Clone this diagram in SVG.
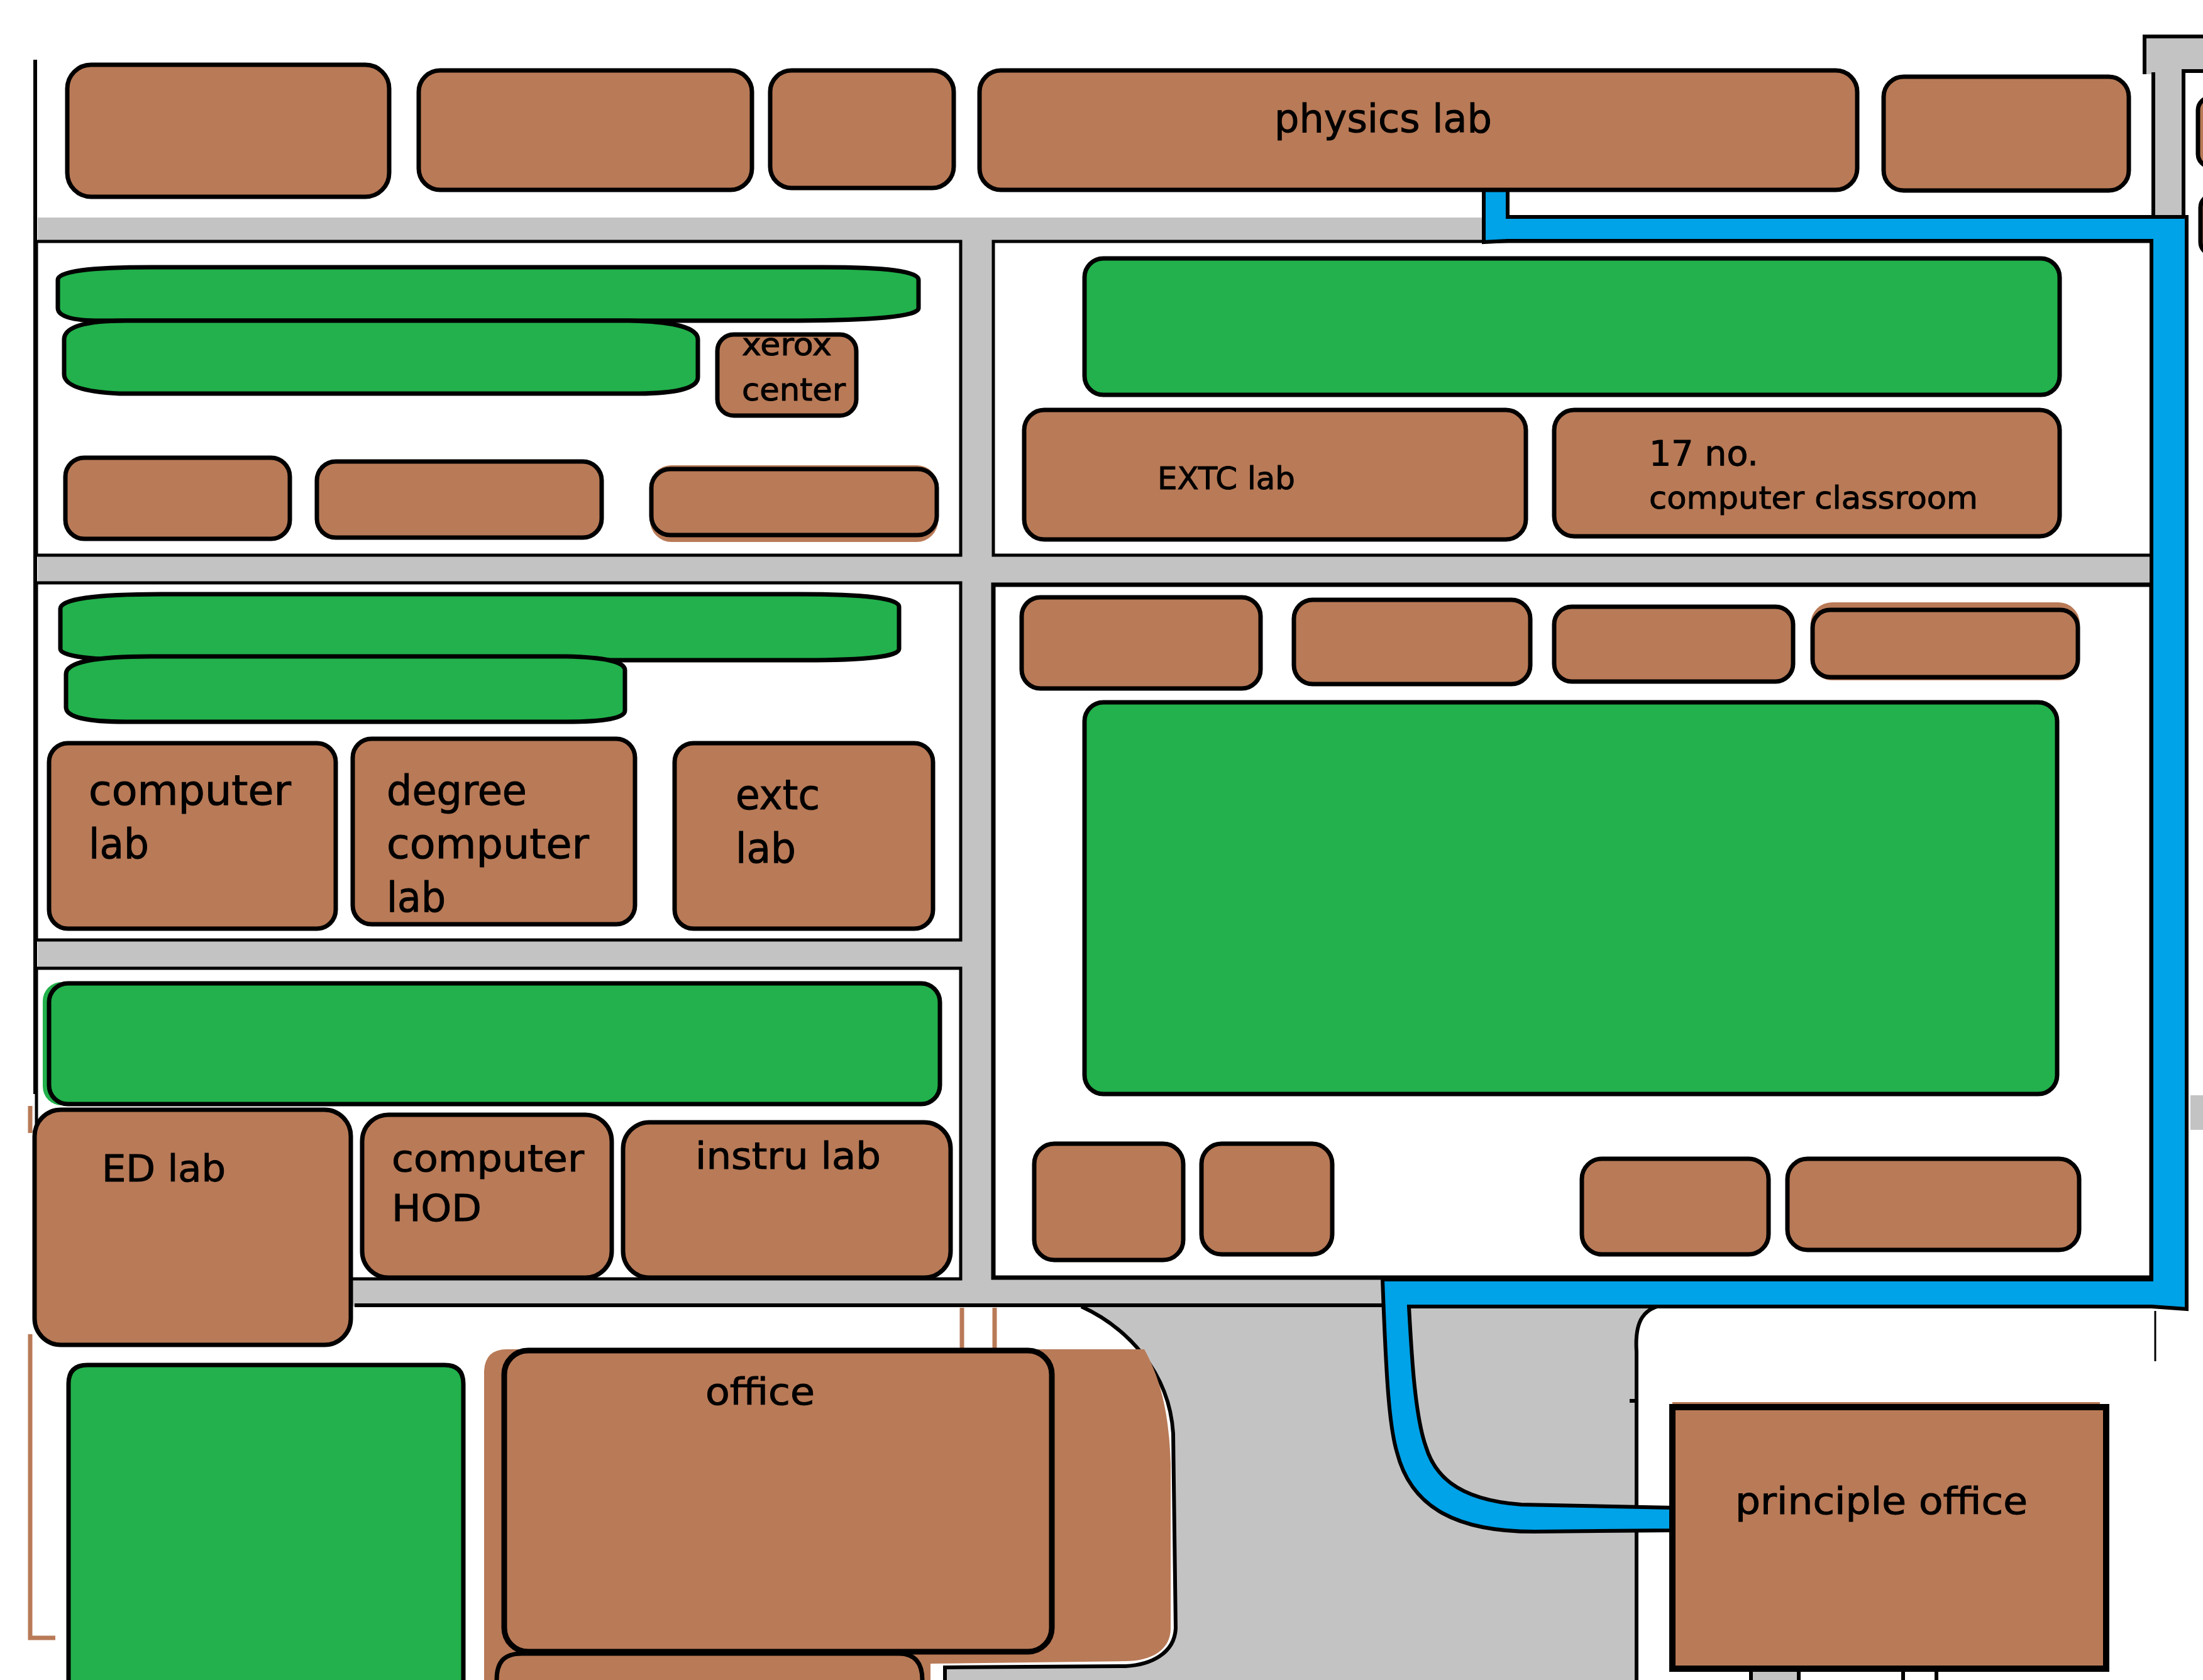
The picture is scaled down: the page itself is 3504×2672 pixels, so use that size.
<svg xmlns="http://www.w3.org/2000/svg" width="3504" height="2672" viewBox="0 0 3504 2672">
<style>
.b{fill:#b97a57;stroke:#000;stroke-width:7}
.g{fill:#22b14c;stroke:#000;stroke-width:7}
.h{fill:#b97a57}
.r{fill:#c3c3c3}
.s{fill:#fff;stroke:#000;stroke-width:5}
.l{fill:none;stroke:#000;stroke-width:6}
.m{fill:none;stroke:#b97a57;stroke-width:7}
text{font-family:"DejaVu Sans",Verdana,sans-serif;fill:#000;stroke:#000;stroke-width:1;font-size:56px}
</style>
<rect width="3504" height="2672" fill="#fff"/>
<g id="roads">
<rect class="r" x="60" y="346" width="3370" height="1732"/>
<path class="r" d="M3411 58H3504V113H3473V346H3422V118H3411Z"/>
<path class="l" d="M3504 58H3411V118M3504 113H3473V346M3425 115V346"/>
<path class="r" d="M1720 2078C1790 2110 1860 2180 1866 2280L1870 2590C1868 2630 1830 2648 1790 2650L1503 2652V2672H2600V2150C2600 2105 2610 2074 2664 2074Z"/>
<path class="l" d="M564 2076H2664M1720 2078C1790 2110 1860 2180 1866 2280L1870 2590C1868 2630 1830 2648 1790 2650L1503 2652V2672M2603 2672V2150C2600 2105 2610 2074 2664 2074M56 95V1740M2592 2228H2606"/>
<rect class="r" x="2785" y="2658" width="76" height="14"/>
<rect class="r" x="3484" y="1742" width="20" height="55"/>
</g>
<g id="sections">
<rect class="s" x="58" y="384" width="1470" height="499"/>
<rect class="s" x="58" y="927" width="1470" height="568"/>
<rect class="s" x="58" y="1540" width="1470" height="494"/>
<rect class="s" x="1580" y="384" width="1842" height="499"/>
<rect class="s" x="1580" y="930" width="1842" height="1102" style="stroke-width:7"/>
</g>
<g id="marks">
<path class="m" d="M48 1759V1802M48 2122V2605H88M1530 2080V2145M1582 2080V2145"/>
<path class="l" d="M3428 2085V2165" style="stroke-width:3"/>
<path class="l" d="M2785 2672V2656M2861 2672V2656M3027 2672V2650M3080 2672V2654"/>
</g>
<g id="connectors">
<path fill="#00a2e8" stroke="#000" stroke-width="6" d="M2360 302H2398V345H3478V2082L3422 2078H2241C2245 2150 2250 2250 2268 2301C2280 2340 2310 2385 2420 2393L2660 2398V2434L2440 2436C2320 2436 2245 2400 2222 2310C2210 2270 2205 2200 2199 2035H3422V383H2398L2360 385Z"/>
</g>
<g id="n1"><rect class="b" x="107" y="103" width="512" height="210" rx="38"/></g>
<g id="n2"><rect class="b" x="666" y="112" width="530" height="190" rx="34"/></g>
<g id="n3"><rect class="b" x="1225" y="112" width="292" height="187" rx="34"/></g>
<g id="n4"><rect class="b" x="1558" y="112" width="1396" height="190" rx="34"/><text x="2027" y="210" textLength="346" lengthAdjust="spacingAndGlyphs" style="font-size:62px">physics lab</text></g>
<g id="n5"><rect class="b" x="2996" y="122" width="390" height="181" rx="32"/></g>
<g id="n6"><rect class="b" x="3496" y="155" width="40" height="110" rx="20"/></g>
<g id="n7"><rect class="b" x="3500" y="310" width="40" height="95" rx="20"/></g>
<g id="g1"><path class="g" d="M92 445Q92 425 240 425H1310Q1461 425 1461 445V490Q1461 510 1250 510H160Q92 510 92 490Z"/></g>
<g id="g2"><path class="g" d="M102 540Q102 510 200 510H1000Q1110 512 1110 540V600Q1110 626 1010 626H190Q102 622 102 595Z"/></g>
<g id="xerox"><rect class="b" x="1141" y="532" width="221" height="129" rx="26"/><text x="1180" y="565" textLength="143" lengthAdjust="spacingAndGlyphs" style="font-size:50px">xerox</text><text x="1180" y="637" textLength="165" lengthAdjust="spacingAndGlyphs" style="font-size:50px">center</text></g>
<g id="n8"><rect class="b" x="104" y="728" width="357" height="129" rx="30"/></g>
<g id="n9"><rect class="b" x="504" y="734" width="453" height="121" rx="30"/></g>
<g id="n10"><rect class="h" x="1034" y="740" width="458" height="122" rx="34"/><rect class="b" x="1036" y="746" width="454" height="105" rx="30"/></g>
<g id="g3"><rect class="g" x="1725" y="411" width="1551" height="217" rx="30"/></g>
<g id="extc-lab"><rect class="b" x="1629" y="652" width="798" height="206" rx="32"/><text x="1841" y="778" textLength="219" lengthAdjust="spacingAndGlyphs" style="font-size:50px">EXTC lab</text></g>
<g id="classroom"><rect class="b" x="2472" y="652" width="804" height="201" rx="32"/><text x="2623" y="740" textLength="174" lengthAdjust="spacingAndGlyphs">17 no.</text><text x="2623" y="809" textLength="523" lengthAdjust="spacingAndGlyphs" style="font-size:50px">computer classroom</text></g>
<g id="g4"><path class="g" d="M96 968Q96 945 260 945H1270Q1430 945 1430 965V1032Q1430 1050 1280 1050H240Q96 1050 96 1032Z"/></g>
<g id="g5"><path class="g" d="M105 1072Q105 1044 240 1044H900Q994 1046 994 1066V1130Q994 1148 900 1148H200Q105 1148 105 1125Z"/></g>
<g id="computer-lab"><rect class="b" x="78" y="1182" width="456" height="295" rx="30"/><text x="141" y="1280" textLength="322" lengthAdjust="spacingAndGlyphs" style="font-size:66px">computer</text><text x="141" y="1365" textLength="96" lengthAdjust="spacingAndGlyphs" style="font-size:66px">lab</text></g>
<g id="degree-lab"><rect class="b" x="561" y="1175" width="449" height="295" rx="30"/><text x="615" y="1280" textLength="223" lengthAdjust="spacingAndGlyphs" style="font-size:66px">degree</text><text x="615" y="1365" textLength="322" lengthAdjust="spacingAndGlyphs" style="font-size:66px">computer</text><text x="615" y="1450" textLength="94" lengthAdjust="spacingAndGlyphs" style="font-size:66px">lab</text></g>
<g id="extc"><rect class="b" x="1073" y="1182" width="411" height="295" rx="30"/><text x="1170" y="1287" textLength="134" lengthAdjust="spacingAndGlyphs" style="font-size:66px">extc</text><text x="1170" y="1372" textLength="96" lengthAdjust="spacingAndGlyphs" style="font-size:66px">lab</text></g>
<g id="g6"><rect x="68" y="1562" width="60" height="196" rx="30" fill="#22b14c"/><rect class="g" x="78" y="1564" width="1417" height="192" rx="30"/></g>
<g id="ed-lab"><rect class="b" x="55" y="1765" width="503" height="374" rx="42"/><text x="162" y="1879" textLength="197" lengthAdjust="spacingAndGlyphs" style="font-size:58px">ED lab</text></g>
<g id="hod"><rect class="b" x="576" y="1773" width="397" height="259" rx="42"/><text x="623" y="1863" textLength="306" lengthAdjust="spacingAndGlyphs" style="font-size:58px">computer</text><text x="623" y="1942" textLength="143" lengthAdjust="spacingAndGlyphs" style="font-size:58px">HOD</text></g>
<g id="instru"><rect class="b" x="991" y="1785" width="521" height="247" rx="42"/><text x="1106" y="1859" textLength="295" lengthAdjust="spacingAndGlyphs" style="font-size:58px">instru lab</text></g>
<g id="g7"><path class="g" d="M109 2672V2201Q109 2171 139 2171H707Q737 2171 737 2201V2672"/></g>
<g id="office-block"><path class="h" d="M770 2672V2180Q772 2146 806 2146H1820C1850 2200 1860 2260 1862 2330V2590C1862 2625 1830 2642 1790 2642L1480 2646V2672Z"/></g>
<g id="n11"><path class="b" d="M790 2672C790 2645 800 2630 830 2630H1430C1455 2630 1467 2645 1467 2672"/></g>
<g id="office"><rect class="b" x="802" y="2148" width="871" height="479" rx="38" style="stroke-width:9"/><text x="1122" y="2234" textLength="174" lengthAdjust="spacingAndGlyphs" style="font-size:58px">office</text></g>
<g id="n12"><rect class="b" x="1625" y="950" width="380" height="145" rx="30"/></g>
<g id="n13"><rect class="b" x="2058" y="954" width="376" height="134" rx="30"/></g>
<g id="n14"><rect class="b" x="2472" y="965" width="380" height="119" rx="28"/></g>
<g id="n15"><rect class="h" x="2880" y="958" width="428" height="124" rx="34"/><rect class="b" x="2883" y="970" width="422" height="107" rx="28"/></g>
<g id="g8"><rect class="g" x="1725" y="1117" width="1547" height="623" rx="30"/></g>
<g id="n16"><rect class="b" x="1645" y="1819" width="237" height="185" rx="32"/></g>
<g id="n17"><rect class="b" x="1911" y="1819" width="208" height="176" rx="32"/></g>
<g id="n18"><rect class="b" x="2516" y="1843" width="297" height="152" rx="32"/></g>
<g id="n19"><rect class="b" x="2843" y="1843" width="464" height="145" rx="32"/></g>
<g id="principle"><rect class="h" x="2660" y="2230" width="680" height="8"/><rect class="b" x="2660" y="2238" width="690" height="416" style="stroke-width:10"/><text x="2760" y="2408" textLength="465" lengthAdjust="spacingAndGlyphs" style="font-size:58px">principle office</text></g>
</svg>
